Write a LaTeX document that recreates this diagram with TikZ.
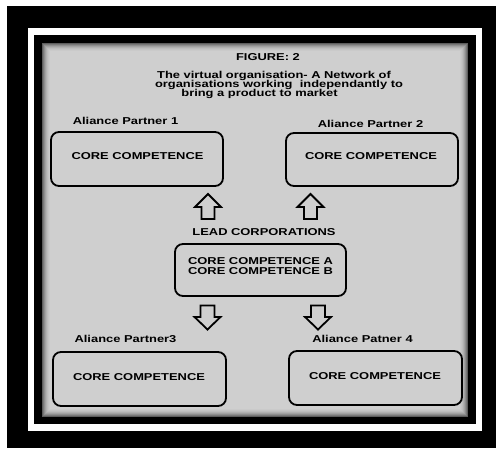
\documentclass[tikz,border=0pt]{standalone}
\usepackage{fontspec}
\setmainfont{Liberation Sans}
\usepackage{graphicx}
\definecolor{bggray}{gray}{0.81}
\newcommand\widetxt[1]{\scalebox{1.29}[1]{#1}}
\tikzset{
  lbl/.style={font=\bfseries\fontsize{10}{10.5}\selectfont, inner sep=0pt, text=black},
  cbox/.style={draw=black, line width=1.8pt, rounded corners=8pt, inner sep=0pt},
  barrow/.style={draw=black, line width=1.8pt, fill=bggray, line join=miter},
}
\begin{document}
\begin{tikzpicture}[x=1pt,y=-1pt]
\useasboundingbox (0,0) rectangle (496,448);
% frames
\fill[white] (0,0) rectangle (496,448);
\fill[black] (7,6) rectangle (496,448);
\fill[white] (28,28) rectangle (482,431);
\fill[black] (34,35) rectangle (476,424);
\fill[bggray] (42,43) rectangle (468,417);
\foreach \i/\o in {0.5/0.55,1.5/0.42,2.5/0.31,3.5/0.22,4.5/0.15,5.5/0.09,6.5/0.05,7.5/0.02}
  \draw[black, opacity=\o, line width=1pt] (42+\i,43+\i) rectangle (468-\i,417-\i);

% title
\node[lbl, anchor=base] (fig) at (268,60.5) {\widetxt{FIGURE: 2}};
\node[lbl, anchor=base] (t1) at (274,78) {\widetxt{The virtual organisation- A Network of}};
\node[lbl, anchor=base] (t2) at (279,87) {\widetxt{organisations working\ \ independantly to}};
\node[lbl, anchor=base] (t3) at (259.5,96) {\widetxt{bring a product to market}};

% partner labels
\node[lbl, anchor=base] (l1) at (125.5,124.5) {\widetxt{Aliance Partner 1}};
\node[lbl, anchor=base] (l2) at (370.5,127.5) {\widetxt{Aliance Partner 2}};
\node[lbl, anchor=base] (l3) at (125.5,342.5) {\widetxt{Aliance Partner3}};
\node[lbl, anchor=base] (l4) at (362.5,342.5) {\widetxt{Aliance Patner 4}};

% boxes
\node[cbox, minimum width=172pt, minimum height=54pt] (p1) at (137,159) {};
\node[cbox, minimum width=172pt, minimum height=53pt] (p2) at (372,159.5) {};
\node[cbox, minimum width=171pt, minimum height=52pt] (lead) at (260.5,270) {};
\node[cbox, minimum width=173pt, minimum height=54pt] (p3) at (139.5,379) {};
\node[cbox, minimum width=173pt, minimum height=54pt] (p4) at (375.5,378) {};

% box texts
\node[lbl] (c1) at (137.5,156) {\widetxt{CORE COMPETENCE}};
\node[lbl] (c2) at (371,156) {\widetxt{CORE COMPETENCE}};
\node[lbl] (c3) at (139,377) {\widetxt{CORE COMPETENCE}};
\node[lbl] (c4) at (375,376) {\widetxt{CORE COMPETENCE}};
\node[lbl] (leadlbl) at (264,232) {\widetxt{LEAD CORPORATIONS}};
\node[lbl, align=center] (ctext) at (260.5,266) {\widetxt{CORE COMPETENCE A}\\\widetxt{CORE COMPETENCE B}};

% block arrows (up)
\draw[barrow] (208,194) -- (221,207) -- (214.5,207) -- (214.5,219) -- (201.5,219) -- (201.5,207) -- (195,207) -- cycle;
\draw[barrow] (310.5,194) -- (323.5,207) -- (317,207) -- (317,219) -- (304,219) -- (304,207) -- (297.5,207) -- cycle;
% block arrows (down)
\draw[barrow] (200.5,305.5) -- (214.5,305.5) -- (214.5,317) -- (220.5,317) -- (207.5,329.5) -- (194.5,317) -- (200.5,317) -- cycle;
\draw[barrow] (311,305.5) -- (325,305.5) -- (325,317) -- (331,317) -- (318,329.5) -- (305,317) -- (311,317) -- cycle;
\end{tikzpicture}
\end{document}
